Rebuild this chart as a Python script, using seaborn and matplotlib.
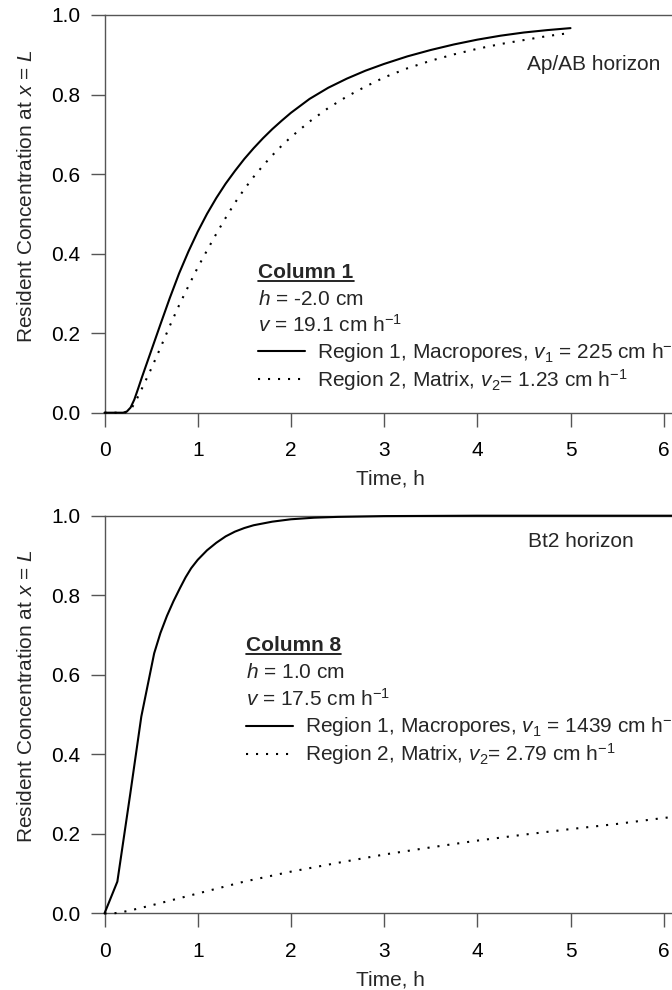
import matplotlib
matplotlib.use("Agg")
import matplotlib.pyplot as plt
import pandas as pd
import seaborn as sns
from matplotlib.lines import Line2D
from matplotlib.ticker import FormatStrFormatter

# ---------------- data ----------------
top_time_macro = [0, 0.1, 0.2, 0.24, 0.28, 0.32, 0.36, 0.4, 0.5, 0.6, 0.7, 0.8, 0.9,
                  1.0, 1.1, 1.2, 1.3, 1.4, 1.5, 1.6, 1.7, 1.8, 1.9, 2.0, 2.2, 2.4,
                  2.6, 2.8, 3.0, 3.25, 3.5, 3.75, 4.0, 4.25, 4.5, 4.75, 5.0]
top_conc_macro = [0, 0, 0, 0.003, 0.013, 0.033, 0.06, 0.088, 0.155, 0.222, 0.288,
                  0.35, 0.405, 0.455, 0.50, 0.54, 0.576, 0.608, 0.638, 0.665, 0.69,
                  0.713, 0.734, 0.754, 0.789, 0.817, 0.84, 0.86, 0.877, 0.896, 0.912,
                  0.926, 0.938, 0.948, 0.956, 0.962, 0.967]
top_time_matrix = [0, 0.22, 0.26, 0.3, 0.35, 0.4, 0.5, 0.6, 0.7, 0.8, 0.9, 1.0, 1.1,
                   1.2, 1.3, 1.4, 1.5, 1.6, 1.7, 1.8, 1.9, 2.0, 2.2, 2.4, 2.6, 2.8,
                   3.0, 3.25, 3.5, 3.75, 4.0, 4.25, 4.5, 4.75, 5.0]
top_conc_matrix = [0, 0, 0.004, 0.015, 0.036, 0.06, 0.11, 0.163, 0.218, 0.27, 0.318,
                   0.365, 0.408, 0.45, 0.49, 0.528, 0.562, 0.593, 0.621, 0.647, 0.671,
                   0.693, 0.732, 0.766, 0.795, 0.82, 0.843, 0.866, 0.885, 0.901,
                   0.915, 0.927, 0.937, 0.947, 0.955]

bot_time_macro = [0, 0.138, 0.276, 0.395, 0.533, 0.6, 0.67, 0.74, 0.81, 0.87, 0.93,
                  1.0, 1.1, 1.2, 1.3, 1.4, 1.5, 1.6, 1.8, 2.0, 2.25, 2.5, 3.0, 4.0,
                  5.0, 6.0, 7.0]
bot_conc_macro = [0, 0.08, 0.30, 0.495, 0.654, 0.705, 0.748, 0.785, 0.818, 0.845,
                  0.868, 0.889, 0.913, 0.932, 0.948, 0.96, 0.969, 0.976, 0.985, 0.991,
                  0.995, 0.997, 0.999, 1.0, 1.0, 1.0, 1.0]
bot_time_matrix = [0, 0.1, 0.25, 0.5, 1.0, 1.5, 2.0, 2.5, 3.0, 3.5, 4.0, 4.5, 5.0, 5.5,
                   6.0, 6.5, 7.0]
bot_conc_matrix = [0, 0, 0.006, 0.02, 0.05, 0.08, 0.105, 0.127, 0.148, 0.166, 0.183,
                   0.198, 0.212, 0.225, 0.24, 0.252, 0.263]

x_ticks = [0, 1, 2, 3, 4, 5, 6, 7]
y_ticks = [0.0, 0.2, 0.4, 0.6, 0.8, 1.0]

panels = [
    dict(horizon="Ap/AB horizon", title="Column 1", h="$h$ = -2.0 cm",
         v="$v$ = 19.1 cm h$^{-1}$",
         lab1="Region 1, Macropores, $v_1$ = 225 cm h$^{-1}$",
         lab2="Region 2, Matrix, $v_2$= 1.23 cm h$^{-1}$",
         t1=top_time_macro, c1=top_conc_macro, t2=top_time_matrix, c2=top_conc_matrix),
    dict(horizon="Bt2 horizon", title="Column 8", h="$h$ = 1.0 cm",
         v="$v$ = 17.5 cm h$^{-1}$",
         lab1="Region 1, Macropores, $v_1$ = 1439 cm h$^{-1}$",
         lab2="Region 2, Matrix, $v_2$= 2.79 cm h$^{-1}$",
         t1=bot_time_macro, c1=bot_conc_macro, t2=bot_time_matrix, c2=bot_conc_matrix),
]

# ---------------- style ----------------
sns.set_theme(style="ticks")
plt.rcParams['font.family'] = ['Liberation Sans', 'DejaVu Sans']
plt.rcParams['mathtext.fontset'] = 'custom'
plt.rcParams['mathtext.rm'] = 'Liberation Sans'
plt.rcParams['mathtext.it'] = 'Liberation Sans:italic'
plt.rcParams['mathtext.bf'] = 'Liberation Sans:bold'

FS = 15
W, H = 672, 990
AX_L, AX_W, AX_H = 104.5, 652.4, 397.7
tops_px = [15.0, 515.7]

# layout (pixels) per panel
layout = [
    dict(hor=(527, 65), blk_x=258.3, base=[278, 305, 332], leg_top=339),
    dict(hor=(527.5, 541.7), blk_x=246.0, base=[651, 678.5, 706], leg_top=713.5),
]

fig = plt.figure(figsize=(W / 100, H / 100), dpi=100)
spine_col = '#555555'

titles = []
for p, lay, top in zip(panels, layout, tops_px):
    ax = fig.add_axes([AX_L / W, 1 - (top + AX_H) / H, AX_W / W, AX_H / H])

    def axy(xp, yp, top=top):
        return ((xp - AX_L) / AX_W, 1 - (yp - top) / AX_H)

    d1 = pd.DataFrame({"Time": p["t1"], "C": p["c1"]})
    d2 = pd.DataFrame({"Time": p["t2"], "C": p["c2"]})
    sns.lineplot(data=d1, x="Time", y="C", ax=ax, color="black", lw=1.5,
                 estimator=None, sort=False, label=p["lab1"], clip_on=False, zorder=5)
    sns.lineplot(data=d2, x="Time", y="C", ax=ax, color="black", lw=1.5,
                 linestyle=(0, (1, 3.8)), estimator=None, sort=False,
                 label=p["lab2"], clip_on=False, zorder=5)

    ax.set_xlim(0, 7)
    ax.set_ylim(0, 1)
    ax.set_xticks(x_ticks)
    ax.set_yticks(y_ticks)
    ax.yaxis.set_major_formatter(FormatStrFormatter('%.1f'))
    for s in ax.spines.values():
        s.set_visible(True)
        s.set_color(spine_col)
        s.set_linewidth(1.0)
    ax.tick_params(axis='both', direction='out', length=10, width=1.0,
                   color=spine_col, labelsize=FS, labelcolor='black')
    ax.tick_params(axis='x', pad=10.5)
    ax.tick_params(axis='y', pad=7.6)

    ax.set_xlabel("Time, h", fontsize=FS)
    ax.xaxis.set_label_coords((390 - AX_L) / AX_W, -56.8 / AX_H)
    ax.set_ylabel("Resident Concentration at $x$ = $L$", fontsize=FS)
    ax.yaxis.set_label_coords((36 - AX_L) / AX_W, 1 - (196 - 15) / AX_H)

    hx, hy = axy(*lay["hor"])
    ax.text(hx, hy, p["horizon"], transform=ax.transAxes, fontsize=FS,
            ha='left', va='center')

    bx = axy(lay["blk_x"], 0)[0]
    t = ax.text(bx, axy(0, lay["base"][0])[1], p["title"], transform=ax.transAxes,
                fontsize=FS, fontweight='bold', ha='left', va='baseline')
    titles.append((t, lay["base"][0]))
    ax.text(bx, axy(0, lay["base"][1])[1], p["h"], transform=ax.transAxes,
            fontsize=FS, ha='left', va='baseline')
    ax.text(bx, axy(0, lay["base"][2])[1], p["v"], transform=ax.transAxes,
            fontsize=FS, ha='left', va='baseline')

    handles = ax.get_lines()[:2]
    ax.legend(handles=handles, labels=[p["lab1"], p["lab2"]], loc='upper left',
              bbox_to_anchor=axy(lay["blk_x"], lay["leg_top"]),
              bbox_transform=ax.transAxes, frameon=False, borderpad=0,
              borderaxespad=0, handlelength=2.26, handletextpad=0.58,
              labelspacing=0.1, fontsize=FS)

# underline the column titles
fig.canvas.draw()
r = fig.canvas.get_renderer()
for t, base in titles:
    bb = t.get_window_extent(r)
    yfig = 1 - (base + 2.5) / H
    fig.add_artist(Line2D([bb.x0 / W, bb.x1 / W], [yfig, yfig],
                          transform=fig.transFigure, color='black', lw=1.2))

fig.savefig("out.png", dpi=100)
